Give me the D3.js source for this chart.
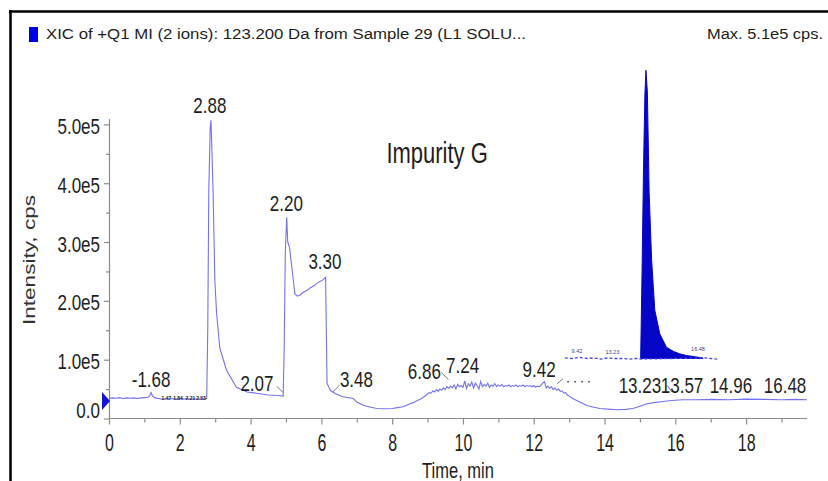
<!DOCTYPE html>
<html>
<head>
<meta charset="utf-8">
<script src="https://cdn.jsdelivr.net/npm/d3@7"></script>
<style>
  html, body { margin: 0; padding: 0; background: #fff; }
  svg { display: block; font-family: "Liberation Sans", Arial, sans-serif; }
</style>
</head>
<body>
<svg id="chart" width="828" height="481"></svg>
<script>
// ---------------- DATA ----------------
const headerTitle = "XIC of +Q1 MI (2 ions): 123.200 Da from Sample 29 (L1 SOLU...";
const headerMax = "Max. 5.1e5 cps.";
const insetTitle = "Impurity G";
const xAxisTitle = "Time, min";
const yAxisTitle = "Intensity, cps";

const xTickValues = [0, 2, 4, 6, 8, 10, 12, 14, 16, 18];
const xMinorTicks = [1, 3, 5, 7, 9, 11, 13, 15, 17, 19];
const yTickValues = [0, 1e5, 2e5, 3e5, 4e5, 5e5];
const yMinorTicks = [0.5e5, 1.5e5, 2.5e5, 3.5e5, 4.5e5];

// main XIC trace (time in min, intensity in cps)
const times = [
  0.00, 0.10, 0.20, 0.30, 0.40, 0.50, 0.60, 0.70, 0.80, 0.90, 1.00, 1.10, 1.15, 1.19, 1.23, 1.30, 1.40, 1.50, 1.60,
  1.70, 1.80, 1.90, 2.00, 2.10, 2.20, 2.30, 2.40, 2.50, 2.60, 2.70, 2.76, 2.79, 2.82, 2.86, 2.88, 2.90, 2.94,
  2.99, 3.04, 3.13, 3.32, 3.60, 3.90, 4.17, 4.50, 4.80, 4.92, 4.95, 4.98, 5.02, 5.05, 5.10, 5.18, 5.25, 5.32,
  5.40, 5.50, 5.60, 5.68, 5.80, 5.90, 6.00, 6.05, 6.12, 6.14, 6.16, 6.25, 6.40, 6.60, 6.90, 7.00, 7.20, 7.40,
  7.57, 7.80, 8.00, 8.15, 8.30, 8.40, 8.50, 8.60, 8.70, 8.80, 8.90, 8.95,
  9.00, 9.05, 9.10, 9.15, 9.20, 9.25, 9.30, 9.35, 9.40, 9.45, 9.50, 9.55, 9.60, 9.65, 9.70, 9.75, 9.80, 9.85, 9.90, 9.95,
  10.00, 10.05, 10.10, 10.15, 10.20, 10.25, 10.30, 10.35, 10.40, 10.45, 10.50, 10.55, 10.60, 10.65, 10.70, 10.75, 10.80, 10.85, 10.90, 10.95,
  11.00, 11.05, 11.10, 11.15, 11.20, 11.25, 11.30, 11.35, 11.40, 11.45, 11.50, 11.55, 11.60, 11.65, 11.70, 11.75, 11.80, 11.85, 11.90, 11.95,
  12.00, 12.05, 12.10, 12.15, 12.20, 12.25, 12.30, 12.35, 12.40, 12.45, 12.50, 12.55, 12.60, 12.65, 12.70, 12.75, 12.80, 12.85, 12.90, 12.95,
  13.00, 13.10, 13.20, 13.30, 13.40, 13.50, 13.70, 13.87, 14.10, 14.35, 14.60,
  14.80, 15.00, 15.20, 15.40, 15.65, 15.90, 16.20, 16.60, 17.00, 17.50, 18.00, 18.50, 19.00, 19.40, 19.72
];
const intensity = [
  34000, 35000, 34500, 35500, 34000, 35000, 34500, 35000, 34000, 35000, 35500, 36000, 39000, 44000, 38000, 35000, 34000, 33000, 33500,
  33000, 34000, 33000, 33500, 33000, 34000, 33000, 33500, 33000, 33500, 33000, 34000, 150000, 390000, 495000, 507000, 470000, 388000,
  235000, 179000, 120000, 82000, 53000, 45000, 43000, 40000, 39000, 38000, 120000, 280000, 342000, 300000, 291000, 250000, 212000, 208000,
  210000, 215000, 218000, 222000, 226000, 231000, 234000, 236000, 240000, 150000, 60000, 48000, 42000, 37000, 34000, 28000, 22000, 19000,
  17000, 16500, 17000, 18500, 20000, 22000, 25000, 27000, 30000, 33000, 37000, 39000,
  42000, 44000, 43000, 47000, 45000, 49000, 46000, 50000, 48000, 52000, 49000, 54000, 51000, 55000, 52000, 57000, 50000, 58000, 54000, 56000,
  53000, 64000, 51000, 59000, 55000, 62000, 52000, 60000, 56000, 50000, 63000, 54000, 58000, 55000, 60000, 53000, 57000, 55000, 59000, 54000,
  57000, 55000, 58000, 54000, 56000, 55000, 57000, 54000, 56000, 55000, 57000, 54000, 56000, 55000, 57000, 54000, 56000, 55000, 56000, 54000,
  56000, 53000, 55000, 54000, 56000, 60000, 63000, 52000, 55000, 51000, 54000, 49000, 52000, 48000, 50000, 46000, 47000, 43000, 44000, 40000,
  38000, 34000, 31000, 28000, 25000, 22000, 19000, 17000, 16000, 15000, 15500,
  17000, 21000, 25000, 27000, 29000, 30500, 32000, 32000, 32500, 32000, 33000, 32500, 32000, 32500, 32000
];

// pasted "Impurity G" peak (filled), same time / intensity units
const insetTimes = [15.02, 15.06, 15.10, 15.14, 15.17, 15.21, 15.26, 15.33, 15.42, 15.56, 15.75, 15.95, 16.12, 16.32, 16.55, 16.78];
const insetIntensity = [102000, 250000, 420000, 550000, 592000, 555000, 384000, 270000, 184000, 144000, 121000, 114000, 110000, 107000, 105000, 103000];
const insetBaseTimes = [12.88, 13.10, 13.30, 13.50, 13.70, 13.90, 14.10, 14.30, 14.50, 14.70, 14.90, 15.02, 16.80, 17.00, 17.20];
const insetBaseIntensity = [103000, 102000, 104000, 102000, 103000, 101000, 103000, 102000, 102000, 101000, 102000, 101000, 103000, 102000, 101000];
const insetBaseline = 102000;
const insetTinyText = ["9.42", "13.23", "16.48"];
const insetTinyTime = [13.22, 14.22, 16.64];
const insetTinyLevel = [112000, 109000, 114000];

// peak labels: text, anchor time, anchor intensity (baseline of label)
const peakLabelText = ["-1.68", "2.88", "2.07", "2.20", "3.30", "3.48", "6.86", "7.24", "9.42", "13.23", "13.57", "14.96", "16.48"];
const peakLabelTime = [1.19, 2.85, 4.18, 5.01, 6.10, 6.99, 8.91, 9.99, 12.15, 15.00, 16.19, 17.57, 19.10];
const peakLabelLevel = [54000, 519000, 46000, 352000, 255000, 53000, 68000, 77000, 71000, 43000, 43000, 43000, 43000];
// tiny overlapping labels in the early baseline
const tinyLabelText = ["1.47", "1.84", "2.21", "2.53"];
const tinyLabelTime = [1.62, 1.95, 2.3, 2.6];

// ---------------- CHART ----------------
const svg = d3.select("#chart");
const x = d3.scaleLinear().domain([0, 19.72]).range([109, 807]);
const y = d3.scaleLinear().domain([0, 5.1e5]).range([418.5, 118.5]);

const axisColor = "#8c8c8c";
const textColor = "#1e1e1e";
const traceColor = "#7272f2";

// frame
svg.append("line").attr("x1", 9).attr("x2", 828).attr("y1", 11.5).attr("y2", 11.5)
  .attr("stroke", "#000").attr("stroke-width", 2.5);
svg.append("line").attr("x1", 10.5).attr("x2", 10.5).attr("y1", 10).attr("y2", 481)
  .attr("stroke", "#000").attr("stroke-width", 2.5);

// header
svg.append("rect").attr("x", 29).attr("y", 27).attr("width", 9).attr("height", 15).attr("fill", "#0000e6");
svg.append("text").attr("x", 46).attr("y", 39).attr("font-size", 15.5).attr("fill", textColor)
  .attr("textLength", 480).attr("lengthAdjust", "spacingAndGlyphs").text(headerTitle);
svg.append("text").attr("x", 707).attr("y", 39).attr("font-size", 15.5).attr("fill", textColor)
  .attr("textLength", 116).attr("lengthAdjust", "spacingAndGlyphs").text(headerMax);

// axes
function styleAxis(g) {
  g.select(".domain").attr("stroke", axisColor).attr("stroke-width", 1.2);
  g.selectAll(".tick line").attr("stroke", axisColor).attr("stroke-width", 1.2);
}
const xg = svg.append("g").attr("transform", `translate(0,${y(0)})`)
  .call(d3.axisBottom(x).tickValues(xTickValues).tickSize(6).tickSizeOuter(0).tickFormat(d => d));
xg.select(".domain").attr("d", `M${x(0)},0H${x.range()[1]}`);
styleAxis(xg);
xg.selectAll(".tick text").attr("y", 0).attr("dy", null)
  .attr("transform", "translate(0,32.5) scale(1,1.55)")
  .attr("font-size", 16).attr("font-family", "Liberation Sans, Arial, sans-serif").attr("fill", textColor);
const xm = svg.append("g").attr("transform", `translate(0,${y(0)})`)
  .call(d3.axisBottom(x).tickValues(xMinorTicks).tickSize(4).tickSizeOuter(0).tickFormat(""));
xm.select(".domain").remove();
styleAxis(xm);

const yg = svg.append("g").attr("transform", `translate(${x(0)},0)`)
  .call(d3.axisLeft(y).tickValues(yTickValues).tickSize(5).tickSizeOuter(0)
    .tickFormat(d => d === 0 ? "0.0" : d3.format(".1e")(d).replace("e+", "e")));
styleAxis(yg);
yg.selectAll(".tick text").attr("x", 0).attr("dy", null)
  .attr("transform", d => d === 0 ? "translate(-9,-1) scale(1,1.25)" : "translate(-9,9) scale(1,1.25)")
  .attr("font-size", 17).attr("font-family", "Liberation Sans, Arial, sans-serif").attr("fill", textColor);
const ym = svg.append("g").attr("transform", `translate(${x(0)},0)`)
  .call(d3.axisLeft(y).tickValues(yMinorTicks).tickSize(3).tickSizeOuter(0).tickFormat(""));
ym.select(".domain").remove();
styleAxis(ym);

// axis titles
svg.append("text").attr("transform", `translate(${(x(0) + x.range()[1]) / 2},478) scale(1,1.3)`)
  .attr("text-anchor", "middle").attr("font-size", 16.5).attr("fill", textColor).text(xAxisTitle);
svg.append("text").attr("transform", "translate(35,260) scale(1,1.37) rotate(-90)")
  .attr("text-anchor", "middle").attr("font-size", 16.5).attr("fill", "#333").text(yAxisTitle);

// start marker
const my = y(intensity[0]) + 2.5;
svg.append("path").attr("d", `M${x(0) - 7},${my - 9}L${x(0) + 1},${my}L${x(0) - 7},${my + 9}Z`).attr("fill", "#1414d2");

// main trace
const mainData = times.map((t, i) => [t, intensity[i]]);
svg.append("path").datum(mainData)
  .attr("fill", "none").attr("stroke", traceColor).attr("stroke-width", 1.1)
  .attr("d", d3.line().x(d => x(d[0])).y(d => y(d[1])));

// inset "Impurity G" peak
const insetData = insetTimes.map((t, i) => [t, insetIntensity[i]]);
svg.append("path").datum(insetData)
  .attr("fill", "#0505c8").attr("stroke", "#0505c8").attr("stroke-width", 1)
  .attr("d", d3.area().x(d => x(d[0])).y0(y(insetBaseline)).y1(d => y(d[1])));
svg.append("path").datum(insetBaseTimes.map((t, i) => [t, insetBaseIntensity[i]]))
  .attr("fill", "none").attr("stroke", "#4a4ae8").attr("stroke-width", 1.3).attr("stroke-dasharray", "3,2")
  .attr("d", d3.line().x(d => x(d[0])).y(d => y(d[1])));
insetTinyText.forEach((t, i) => {
  svg.append("text").attr("x", x(insetTinyTime[i])).attr("y", y(insetTinyLevel[i]))
    .attr("text-anchor", "middle").attr("font-size", 5.5).attr("fill", "#3c3c8c").text(t);
});
svg.append("text").attr("transform", `translate(${x(9.27)},${y(4.34e5)}) scale(1,1.33)`)
  .attr("text-anchor", "middle").attr("font-size", 22).attr("fill", textColor).text(insetTitle);

// tiny black labels in baseline
tinyLabelText.forEach((t, i) => {
  svg.append("text").attr("x", x(tinyLabelTime[i])).attr("y", y(intensity[0]) + 1)
    .attr("text-anchor", "middle").attr("font-size", 5).attr("font-weight", "bold").attr("fill", "#222").text(t);
});

// peak labels
const connectors = {
  "2.07": [[20, -5], [26, 1]],
  "3.48": [[-24, 5], [-17, -2]],
  "6.86": [[17, -6], [24, 1]],
  "9.42": [[18, 7], [24, 2]],
  "13.57": [[-15, -8], [-10, -1]]
};
peakLabelText.forEach((t, i) => {
  const px = x(peakLabelTime[i]), py = y(peakLabelLevel[i]);
  svg.append("text").attr("transform", `translate(${px},${py}) scale(1,1.3)`)
    .attr("text-anchor", "middle").attr("font-size", 17).attr("fill", textColor).text(t);
  const c = connectors[t];
  if (c) {
    svg.append("line").attr("x1", px + c[0][0]).attr("y1", py + c[0][1]).attr("x2", px + c[1][0]).attr("y2", py + c[1][1])
      .attr("stroke", "#777").attr("stroke-width", 1);
  }
});
// dotted trail after 9.42 connector
{
  const i = peakLabelText.indexOf("9.42");
  const px = x(peakLabelTime[i]), py = y(peakLabelLevel[i]);
  svg.append("line").attr("x1", px + 28).attr("x2", px + 56).attr("y1", py + 5).attr("y2", py + 5)
    .attr("stroke", "#666").attr("stroke-width", 1.3).attr("stroke-dasharray", "2,5");
}
</script>
</body>
</html>
